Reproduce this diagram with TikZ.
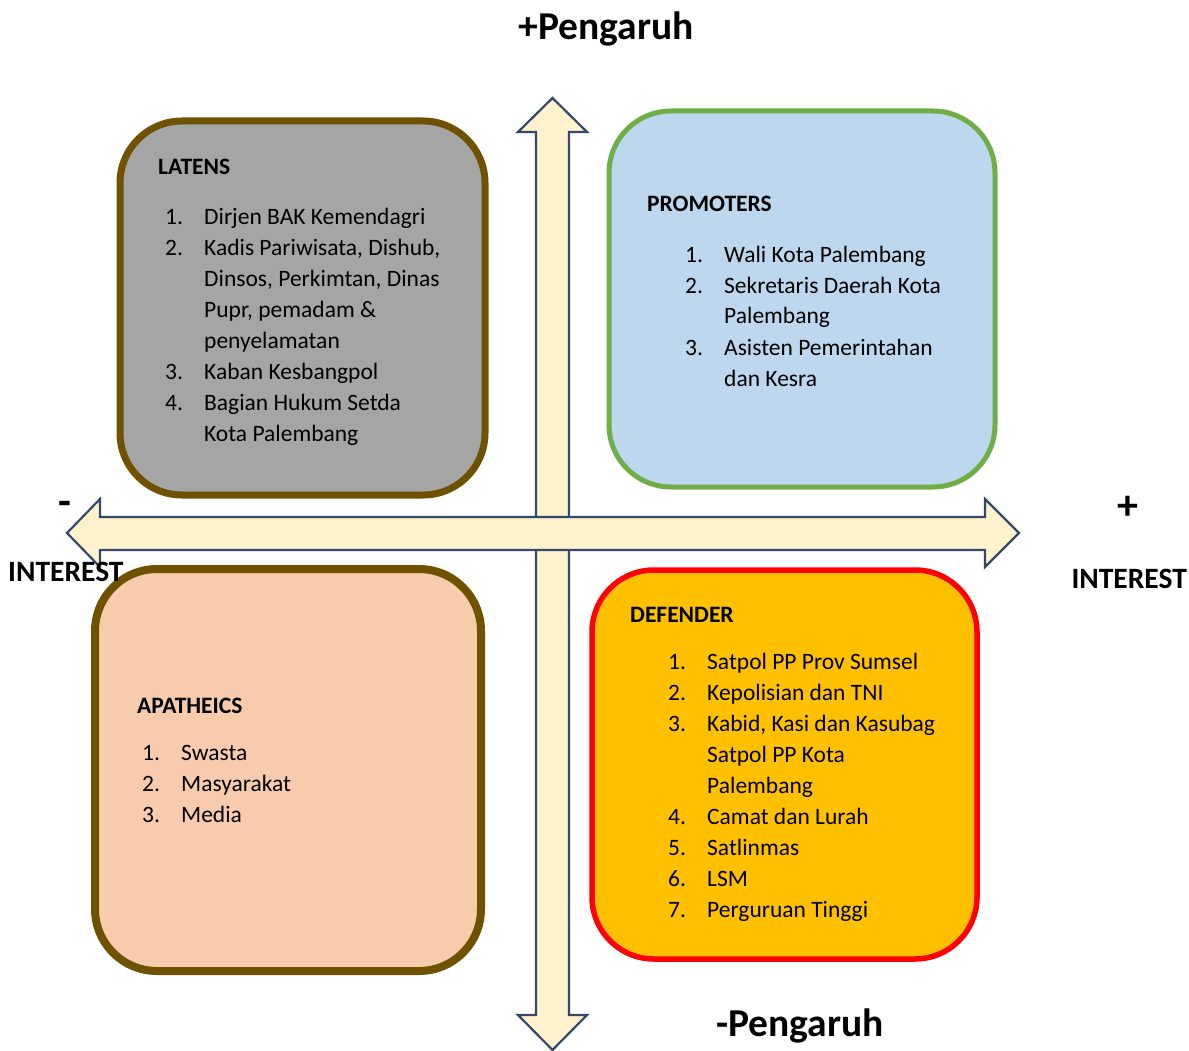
\documentclass[tikz,border=0pt]{standalone}
\usepackage{fontspec}
\setmainfont{Carlito}
\definecolor{latfill}{HTML}{A5A5A5}
\definecolor{brownb}{HTML}{6E5200}
\definecolor{profill}{HTML}{BDD7EE}
\definecolor{greenb}{HTML}{70AD47}
\definecolor{apafill}{HTML}{F8CBAD}
\definecolor{deffill}{HTML}{FFC000}
\definecolor{redb}{HTML}{FF0000}
\definecolor{arrfill}{HTML}{FFF2CC}
\definecolor{arrline}{HTML}{34486A}
\tikzset{
  quad/.style={rounded corners=62pt, inner sep=0pt, outer sep=0pt},
  bigarrow/.style={fill=arrfill, draw=arrline, line width=2.2pt, line join=miter},
  ttl/.style={anchor=base west, inner sep=0pt, font=\fontsize{23.5}{31}\selectfont\bfseries},
  lst/.style={anchor=base west, inner sep=0pt, font=\fontsize{23.5}{31}\selectfont, align=left},
  axis/.style={inner sep=0pt, font=\fontsize{39.5}{40}\selectfont\bfseries},
  side/.style={inner sep=0pt, font=\fontsize{29.5}{30}\selectfont\bfseries},
  sign/.style={inner sep=0pt, font=\fontsize{42}{42}\selectfont\bfseries},
}
\newcommand{\itemlist}[1]{\begin{tabular}[t]{@{}p{39pt}@{}l@{}}#1\end{tabular}}
\begin{document}
\begin{tikzpicture}[x=1pt,y=-1pt]
\useasboundingbox (0,0) rectangle (1189,1051);
% quadrant boxes
\node[quad, fill=latfill, draw=brownb, line width=7pt, minimum width=365pt, minimum height=374pt] (latens) at (302.5,308) {};
\node[quad, fill=profill, draw=greenb, line width=5pt, minimum width=386pt, minimum height=376pt] (promo) at (802,299) {};
\node[quad, fill=apafill, draw=brownb, line width=8pt, minimum width=386pt, minimum height=402pt] (apa) at (288,770) {};
\node[quad, fill=deffill, draw=redb, line width=5.5pt, minimum width=385pt, minimum height=389pt] (def) at (784.5,764.5) {};
% vertical arrow
\path[bigarrow] (552.5,98) -- (587,132) -- (569,132) -- (569,1015) -- (587,1015) -- (552.5,1050)
  -- (518,1015) -- (536,1015) -- (536,132) -- (518,132) -- cycle;
% horizontal arrow
\path[bigarrow] (67,533) -- (100,499) -- (100,517) -- (985,517) -- (985,499) -- (1019,533)
  -- (985,567) -- (985,550) -- (100,550) -- (100,567) -- cycle;
% axis labels
\node[axis, anchor=base] (ptop) at (606,40) {+Pengaruh};
\node[axis, anchor=base] (pbot) at (800,1036) {-Pengaruh};
\node[sign] (minus) at (65,508) {-};
\node[sign] (plus) at (1128,508) {+};
\node[side, anchor=base west] (intl) at (8,581) {INTEREST};
\node[side, anchor=base east] (intr) at (1187,588) {INTEREST};
% LATENS
\node[ttl] (latt) at (158,175) {LATENS};
\node[lst] (latl) at (165,225) {\itemlist{
1. & Dirjen BAK Kemendagri\\
2. & Kadis Pariwisata, Dishub,\\
   & Dinsos, Perkimtan, Dinas\\
   & Pupr, pemadam \&\\
   & penyelamatan\\
3. & Kaban Kesbangpol\\
4. & Bagian Hukum Setda\\
   & Kota Palembang}};
% PROMOTERS
\node[ttl] (prot) at (647,212) {PROMOTERS};
\node[lst] (prol) at (685,262) {\itemlist{
1. & Wali Kota Palembang\\
2. & Sekretaris Daerah Kota\\
   & Palembang\\
3. & Asisten Pemerintahan\\
   & dan Kesra}};
% APATHEICS
\node[ttl] (apat) at (137,713) {APATHEICS};
\node[lst] (apal) at (142,760) {\itemlist{
1. & Swasta\\
2. & Masyarakat\\
3. & Media}};
% DEFENDER
\node[ttl] (deft) at (630,622) {DEFENDER};
\node[lst] (defl) at (668,669) {\itemlist{
1. & Satpol PP Prov Sumsel\\
2. & Kepolisian dan TNI\\
3. & Kabid, Kasi dan Kasubag\\
   & Satpol PP Kota\\
   & Palembang\\
4. & Camat dan Lurah\\
5. & Satlinmas\\
6. & LSM\\
7. & Perguruan Tinggi}};
\end{tikzpicture}
\end{document}
